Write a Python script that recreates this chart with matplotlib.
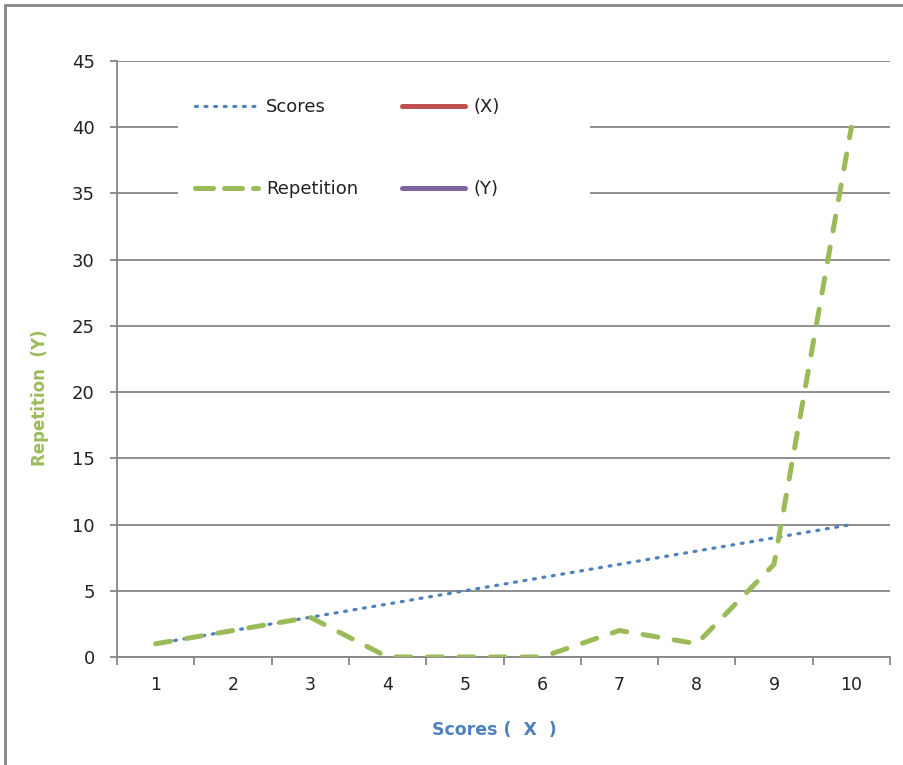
import matplotlib
matplotlib.use("Agg")
import matplotlib.pyplot as plt
from matplotlib.patches import Rectangle
from matplotlib.lines import Line2D

# Data
categories = [1, 2, 3, 4, 5, 6, 7, 8, 9, 10]
scores = [1, 2, 3, 4, 5, 6, 7, 8, 9, 10]
repetition = [1, 2, 3, 0, 0, 0, 2, 1, 7, 40]
y_ticks = [0, 5, 10, 15, 20, 25, 30, 35, 40, 45]

FONT = ["DejaVu Sans"]
W, H = 904, 765
fig = plt.figure(figsize=(W / 100, H / 100), dpi=100)

# outer chart border (Excel chart area)
fig.patches.append(Rectangle((5 / W, -0.01), 1.2, 1 - 5 / H + 0.01,
                             transform=fig.transFigure, fill=False,
                             edgecolor="#868686", linewidth=2))

ax = fig.add_axes([117 / W, 108 / H, (890 - 117) / W, (657 - 61) / H])
ax.set_xlim(0.5, 10.5)
ax.set_ylim(0, 45)

grid_c = "#868686"
for s in ["top", "right"]:
    ax.spines[s].set_visible(False)
for s in ["left", "bottom"]:
    ax.spines[s].set_color(grid_c)
    ax.spines[s].set_linewidth(1.3)

ax.set_yticks(y_ticks)
ax.yaxis.grid(True, color=grid_c, linewidth=1.3)
ax.set_axisbelow(True)
ax.tick_params(axis="y", length=5, width=1.3, color=grid_c, pad=11,
               labelsize=13, labelcolor="#222222")

ax.set_xticks(categories)
ax.set_xticklabels([str(c) for c in categories])
ax.set_xticks([c + 0.5 for c in [0] + categories], minor=True)
ax.tick_params(axis="x", which="major", length=0, pad=14, labelsize=12.5,
               labelcolor="#222222")
ax.tick_params(axis="x", which="minor", length=6, width=1.3, color=grid_c)

for lab in ax.get_xticklabels() + ax.get_yticklabels():
    lab.set_family(FONT)

# white legend background covering gridlines
ax.add_patch(Rectangle(((178 - 117) / 773, (657 - 215) / 596),
                       (590 - 178) / 773, (215 - 75) / 596,
                       transform=ax.transAxes, facecolor="white",
                       edgecolor="none", zorder=1.5))

blue = "#4F81BD"
green = "#9BBB59"
dot_style = (0, (0.6, 2.4))
dash_style = (0, (3, 3.3))
ax.plot(categories, scores, color=blue, linestyle=dot_style,
        linewidth=2.3, dash_capstyle="round", zorder=2.5, label="Scores")
ax.plot(categories, repetition, color=green, linestyle=dash_style,
        linewidth=3.6, dash_capstyle="round", zorder=3, label="Repetition")

h_scores = Line2D([], [], color=blue, linestyle=dot_style, linewidth=2.3,
                  dash_capstyle="round")
h_rep = Line2D([], [], color=green, linestyle=(0, (3.6, 2.2)), linewidth=3.6,
               dash_capstyle="round")
h_x = Line2D([], [], color="#C0504D", linewidth=3.6, solid_capstyle="round")
h_y = Line2D([], [], color="#8064A2", linewidth=3.6, solid_capstyle="round")

leg = ax.legend([h_scores, h_rep, h_x, h_y],
                ["Scores", "Repetition", "(X)", "(Y)"],
                ncol=2, loc="upper left",
                bbox_to_anchor=((195 - 117) / 773, (657 - 98) / 596),
                frameon=False, borderpad=0, borderaxespad=0,
                handlelength=3.5, handletextpad=0.45, columnspacing=2.4,
                labelspacing=3.55,
                prop={"family": FONT, "size": 13})
for t in leg.get_texts():
    t.set_color("#222222")

ax.set_xlabel("Scores (  X  )", color=blue, fontsize=12.5, fontweight="bold",
              family=FONT)
ax.xaxis.set_label_coords((494 - 117) / 773, (657 - 730) / 596)
ax.xaxis.label.set_va("center")
ax.set_ylabel("Repetition  (Y)", color=green, fontsize=12, fontweight="bold",
              family=FONT)
ax.yaxis.set_label_coords((40 - 117) / 773, (657 - 398) / 596)
ax.yaxis.label.set_va("center")

fig.savefig("out.png", dpi=100)
